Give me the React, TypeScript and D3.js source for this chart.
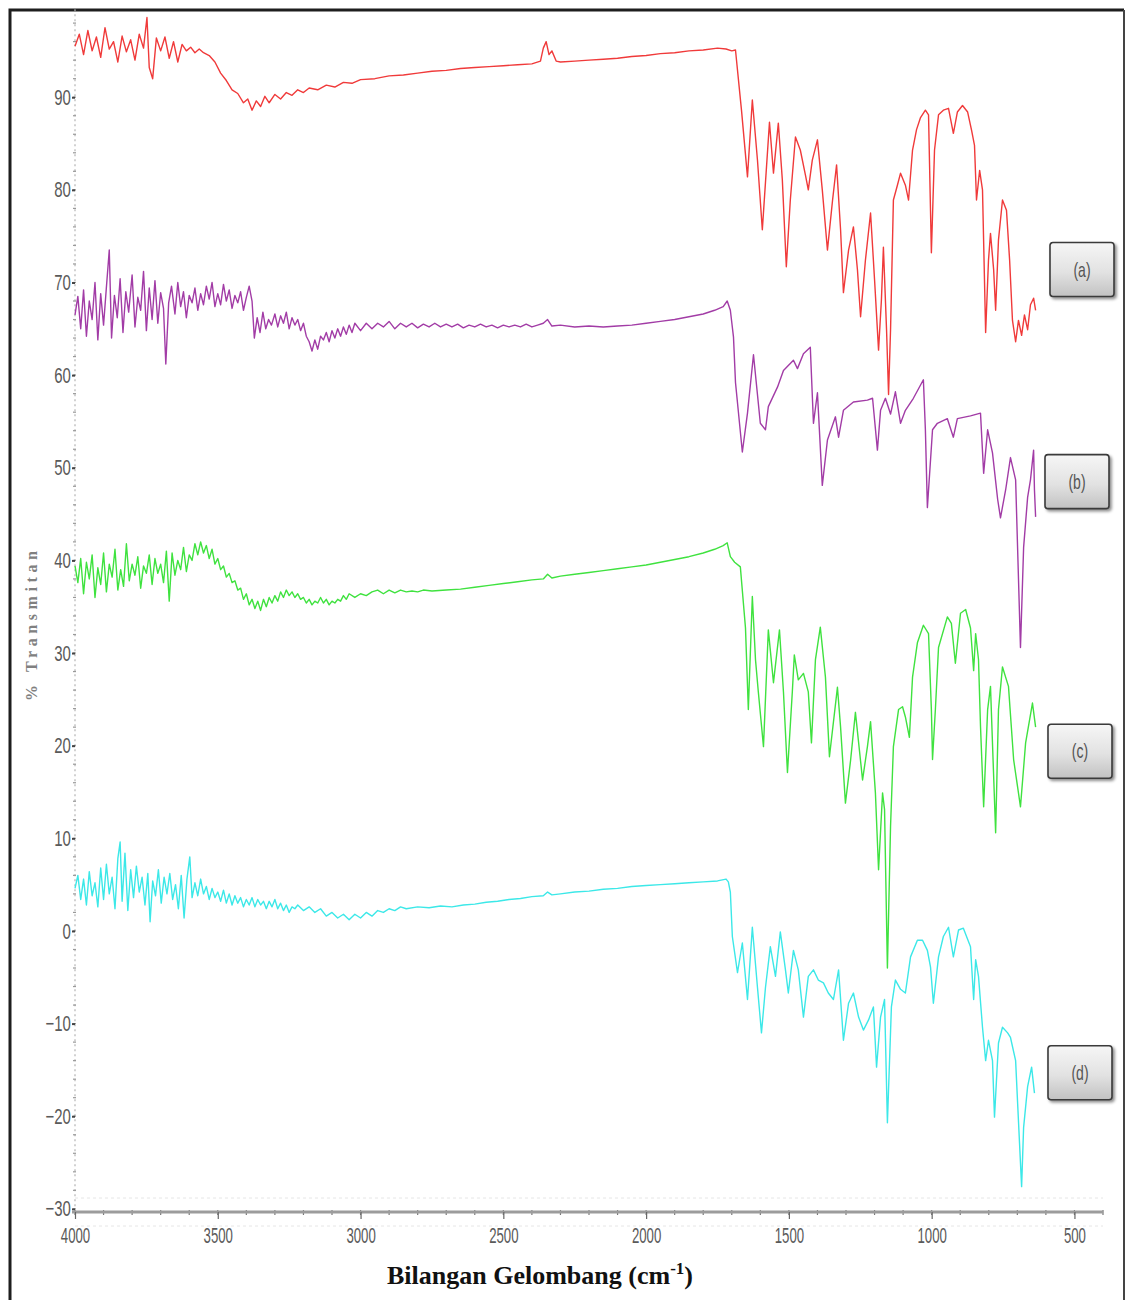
import { useEffect, useRef } from 'react';
import * as d3 from 'd3';

type Point = [number, number]; // [wavenumber cm-1, % transmitan]

const SERIES_A: Point[] = [
    [4000, 95.5], [3985, 96.8], [3970, 94.6], [3955, 97.2], [3940, 95.0], [3925, 96.5], [3910, 94.3], [3895, 97.5],
    [3880, 95.2], [3865, 96.0], [3850, 93.8], [3835, 96.6], [3820, 94.9], [3805, 96.2], [3790, 94.0], [3775, 96.8],
    [3760, 95.3], [3748, 98.6], [3740, 93.2], [3728, 92.0], [3715, 96.4], [3700, 95.0], [3685, 96.5], [3670, 94.2],
    [3655, 96.0], [3640, 93.8], [3625, 95.7], [3610, 95.0], [3595, 95.4], [3580, 94.8], [3565, 95.2], [3550, 94.8],
    [3530, 94.5], [3510, 93.8], [3490, 92.6], [3470, 91.8], [3450, 90.8], [3430, 90.4], [3410, 89.4], [3395, 89.8],
    [3380, 88.6], [3365, 89.6], [3350, 89.0], [3335, 90.1], [3320, 89.4], [3300, 90.3], [3280, 89.8], [3260, 90.5],
    [3240, 90.2], [3220, 90.8], [3200, 90.5], [3180, 91.0], [3150, 90.8], [3120, 91.3], [3090, 91.1], [3060, 91.6],
    [3030, 91.5], [3000, 91.9], [2950, 92.0], [2900, 92.3], [2850, 92.4], [2800, 92.6], [2750, 92.8], [2700, 92.9],
    [2650, 93.1], [2600, 93.2], [2550, 93.3], [2500, 93.4], [2450, 93.5], [2400, 93.6], [2370, 93.9], [2360, 95.3],
    [2350, 96.0], [2340, 94.6], [2330, 95.0], [2315, 93.9], [2300, 93.8], [2250, 93.9], [2200, 94.0], [2150, 94.1],
    [2100, 94.2], [2050, 94.4], [2000, 94.5], [1950, 94.7], [1900, 94.8], [1850, 95.0], [1800, 95.1], [1750, 95.3],
    [1720, 95.2], [1700, 95.0], [1687, 95.1], [1666, 88.6], [1645, 81.4], [1628, 89.7], [1610, 83.2], [1593, 75.7],
    [1568, 87.3], [1554, 81.8], [1537, 87.2], [1523, 81.1], [1509, 71.7], [1495, 78.9], [1477, 85.7], [1460, 84.3],
    [1442, 81.6], [1432, 80.0], [1418, 83.2], [1400, 85.4], [1383, 80.0], [1365, 73.5], [1347, 78.9], [1333, 82.7],
    [1319, 75.7], [1309, 68.9], [1291, 73.5], [1274, 76.0], [1260, 71.4], [1249, 66.3], [1232, 72.4], [1214, 77.5],
    [1200, 70.3], [1186, 62.7], [1176, 68.1], [1169, 73.8], [1158, 64.9], [1151, 57.9], [1144, 64.9], [1134, 78.9],
    [1120, 80.5], [1109, 81.8], [1092, 80.5], [1081, 78.9], [1067, 84.3], [1053, 86.5], [1039, 87.8], [1022, 88.6],
    [1011, 88.1], [1001, 73.2], [990, 84.3], [976, 88.1], [959, 88.6], [941, 88.8], [924, 86.1], [910, 88.4],
    [892, 89.1], [874, 88.4], [860, 86.4], [850, 84.8], [843, 78.9], [832, 82.1], [822, 80.0], [811, 64.6],
    [801, 72.4], [794, 75.3], [783, 71.4], [776, 67.0], [766, 74.6], [752, 78.9], [738, 77.8], [727, 72.4],
    [717, 65.9], [706, 63.6], [696, 65.9], [685, 64.3], [675, 66.5], [664, 64.9], [654, 67.6], [643, 68.3], [636, 67.0],
];

const SERIES_B: Point[] = [
    [4000, 66.5], [3990, 68.5], [3980, 65.0], [3970, 69.2], [3960, 64.2], [3950, 68.0], [3940, 66.0], [3930, 70.0],
    [3920, 63.8], [3910, 68.8], [3900, 65.4], [3890, 69.5], [3880, 73.5], [3872, 64.0], [3862, 68.6], [3852, 66.2],
    [3842, 70.4], [3832, 64.6], [3822, 69.0], [3812, 66.8], [3800, 70.8], [3790, 65.2], [3780, 68.4], [3770, 67.0],
    [3760, 71.2], [3750, 64.8], [3740, 69.4], [3730, 66.0], [3720, 70.2], [3710, 65.6], [3700, 68.9], [3690, 67.2],
    [3682, 61.2], [3672, 67.8], [3662, 69.6], [3650, 66.6], [3640, 70.0], [3630, 67.4], [3620, 69.0], [3610, 66.2],
    [3600, 68.6], [3590, 67.8], [3580, 69.4], [3570, 67.0], [3560, 68.8], [3550, 67.6], [3540, 69.6], [3530, 68.2],
    [3520, 70.0], [3510, 67.4], [3500, 68.8], [3490, 67.6], [3480, 69.8], [3470, 68.0], [3460, 69.2], [3450, 67.2],
    [3440, 68.6], [3430, 67.8], [3420, 69.0], [3410, 67.0], [3400, 68.4], [3390, 69.6], [3380, 68.0], [3372, 64.0],
    [3362, 66.2], [3352, 64.6], [3342, 66.8], [3332, 65.0], [3322, 66.0], [3312, 65.4], [3300, 66.6], [3290, 65.2],
    [3280, 66.4], [3270, 65.6], [3260, 66.8], [3250, 65.0], [3240, 66.2], [3230, 65.4], [3220, 66.0], [3210, 64.8],
    [3200, 65.6], [3190, 64.2], [3180, 63.6], [3170, 62.6], [3160, 63.8], [3150, 62.8], [3140, 64.2], [3130, 63.8],
    [3120, 64.6], [3110, 63.6], [3100, 64.8], [3090, 64.0], [3080, 65.0], [3070, 64.2], [3060, 65.2], [3050, 64.4],
    [3040, 65.4], [3030, 64.6], [3020, 65.6], [3000, 64.8], [2980, 65.6], [2960, 65.0], [2940, 65.6], [2920, 65.2],
    [2900, 65.8], [2880, 65.0], [2860, 65.6], [2840, 65.2], [2820, 65.6], [2800, 65.1], [2780, 65.5], [2760, 65.2],
    [2740, 65.6], [2720, 65.2], [2700, 65.5], [2680, 65.2], [2660, 65.5], [2640, 65.1], [2620, 65.4], [2600, 65.2],
    [2580, 65.5], [2560, 65.2], [2540, 65.4], [2520, 65.1], [2500, 65.4], [2480, 65.2], [2460, 65.4], [2440, 65.2],
    [2420, 65.5], [2400, 65.2], [2380, 65.4], [2360, 65.6], [2345, 66.0], [2330, 65.3], [2300, 65.4], [2250, 65.2],
    [2200, 65.3], [2150, 65.2], [2100, 65.3], [2050, 65.4], [2000, 65.6], [1950, 65.8], [1900, 66.0], [1850, 66.3],
    [1800, 66.6], [1760, 67.0], [1730, 67.4], [1716, 68.0], [1705, 67.0], [1694, 64.1], [1687, 59.2], [1663, 51.7],
    [1645, 55.9], [1624, 62.2], [1600, 54.8], [1582, 54.1], [1572, 56.6], [1540, 58.7], [1519, 60.5], [1484, 61.6],
    [1470, 60.7], [1449, 62.3], [1425, 63.0], [1414, 54.8], [1400, 58.1], [1383, 48.1], [1365, 53.0], [1337, 55.5],
    [1326, 53.3], [1309, 56.2], [1274, 57.1], [1225, 57.3], [1207, 57.5], [1190, 51.9], [1179, 56.2], [1162, 57.5],
    [1144, 55.8], [1127, 58.2], [1109, 54.8], [1092, 56.2], [1064, 57.5], [1029, 59.5], [1022, 54.1], [1015, 45.7],
    [997, 54.1], [980, 54.8], [945, 55.3], [924, 53.3], [910, 55.3], [864, 55.6], [829, 55.9], [818, 49.4],
    [804, 54.1], [787, 51.6], [769, 46.6], [759, 44.6], [741, 47.6], [724, 51.1], [706, 48.7], [689, 30.6],
    [678, 41.4], [664, 46.8], [654, 48.7], [643, 51.9], [640, 47.6], [636, 44.7],
];

const SERIES_C: Point[] = [
    [4000, 39.4], [3990, 37.6], [3980, 40.2], [3970, 36.4], [3960, 39.8], [3950, 38.0], [3940, 40.6], [3930, 36.0],
    [3920, 39.2], [3910, 37.4], [3900, 40.8], [3890, 36.6], [3880, 39.6], [3870, 38.2], [3860, 41.2], [3850, 36.8],
    [3840, 39.0], [3830, 37.2], [3820, 41.8], [3810, 37.8], [3800, 39.6], [3790, 38.4], [3780, 40.4], [3770, 37.0],
    [3760, 39.4], [3750, 38.6], [3740, 40.6], [3730, 37.4], [3720, 40.2], [3710, 38.6], [3700, 39.6], [3690, 37.6],
    [3680, 41.0], [3670, 35.6], [3660, 40.8], [3650, 38.4], [3640, 40.0], [3630, 39.0], [3620, 41.4], [3610, 38.8],
    [3600, 40.6], [3590, 40.0], [3580, 41.8], [3570, 40.6], [3560, 42.0], [3550, 40.8], [3540, 41.6], [3530, 40.2],
    [3520, 41.2], [3510, 39.6], [3500, 40.2], [3490, 39.0], [3480, 39.4], [3470, 38.2], [3460, 38.6], [3450, 37.6],
    [3440, 37.8], [3430, 36.8], [3420, 37.0], [3410, 35.8], [3400, 36.4], [3390, 35.2], [3380, 35.8], [3370, 34.8],
    [3360, 35.6], [3350, 34.6], [3340, 35.8], [3330, 35.0], [3320, 36.0], [3310, 35.4], [3300, 36.2], [3290, 35.6],
    [3280, 36.6], [3270, 36.0], [3260, 36.8], [3250, 36.2], [3240, 36.6], [3230, 36.0], [3220, 36.4], [3210, 35.8],
    [3200, 36.0], [3190, 35.4], [3180, 35.8], [3170, 35.2], [3160, 35.6], [3150, 35.4], [3140, 36.0], [3130, 35.4],
    [3120, 35.8], [3110, 35.2], [3100, 35.6], [3090, 35.4], [3080, 35.8], [3070, 35.6], [3060, 36.2], [3050, 35.8],
    [3040, 36.4], [3020, 36.0], [3000, 36.4], [2980, 36.2], [2960, 36.6], [2940, 36.8], [2920, 36.4], [2900, 36.8],
    [2880, 36.5], [2860, 36.8], [2840, 36.6], [2820, 36.7], [2800, 36.6], [2780, 36.8], [2750, 36.7], [2700, 36.8],
    [2650, 36.9], [2600, 37.1], [2550, 37.3], [2500, 37.5], [2450, 37.7], [2400, 37.9], [2360, 38.0], [2345, 38.5],
    [2330, 38.1], [2300, 38.3], [2250, 38.5], [2200, 38.7], [2150, 38.9], [2100, 39.1], [2050, 39.3], [2000, 39.5],
    [1950, 39.8], [1900, 40.1], [1850, 40.4], [1800, 40.8], [1760, 41.2], [1730, 41.6], [1716, 41.9], [1705, 40.4],
    [1690, 39.8], [1670, 39.3], [1652, 32.7], [1642, 23.9], [1628, 36.1], [1617, 29.3], [1607, 25.8], [1589, 19.9],
    [1572, 32.5], [1554, 26.8], [1533, 32.5], [1519, 25.8], [1505, 17.1], [1488, 25.8], [1481, 29.8], [1467, 27.1],
    [1449, 27.8], [1432, 25.8], [1421, 20.3], [1407, 29.3], [1390, 32.8], [1372, 27.4], [1358, 18.8], [1330, 26.3],
    [1319, 22.0], [1302, 13.8], [1284, 18.4], [1267, 23.6], [1242, 16.3], [1225, 19.9], [1214, 22.6], [1197, 14.9],
    [1186, 6.6], [1172, 14.9], [1165, 13.1], [1155, -4.0], [1144, 11.3], [1134, 19.9], [1116, 23.9], [1102, 24.2],
    [1092, 23.1], [1078, 20.9], [1067, 27.4], [1050, 31.1], [1029, 33.0], [1011, 32.1], [1001, 23.9], [997, 18.5],
    [987, 23.9], [976, 30.6], [945, 33.9], [931, 33.2], [917, 28.9], [899, 34.3], [881, 34.7], [864, 32.7],
    [853, 28.1], [846, 32.1], [836, 29.3], [829, 22.1], [818, 13.4], [804, 23.9], [794, 26.4], [776, 10.6],
    [766, 23.9], [752, 28.5], [731, 26.4], [713, 18.5], [689, 13.4], [671, 20.3], [647, 24.6], [636, 22.0],
];

const SERIES_D: Point[] = [
    [4000, 4.6], [3990, 6.0], [3980, 3.4], [3970, 5.6], [3960, 2.8], [3950, 6.4], [3940, 3.8], [3930, 5.2],
    [3920, 2.6], [3910, 6.8], [3900, 3.4], [3890, 7.2], [3880, 4.0], [3870, 5.8], [3860, 2.4], [3850, 7.8],
    [3842, 9.6], [3835, 3.2], [3825, 8.4], [3815, 2.2], [3805, 6.6], [3795, 3.6], [3785, 7.0], [3775, 4.2],
    [3765, 5.8], [3755, 2.8], [3745, 6.2], [3737, 1.0], [3728, 5.4], [3718, 3.8], [3708, 6.6], [3698, 3.0],
    [3688, 5.8], [3678, 4.0], [3668, 6.2], [3658, 3.4], [3648, 5.0], [3638, 2.4], [3628, 6.0], [3618, 1.4],
    [3608, 5.6], [3598, 8.0], [3590, 3.6], [3580, 5.2], [3570, 3.8], [3560, 5.6], [3550, 4.0], [3540, 4.8],
    [3530, 3.4], [3520, 4.6], [3510, 3.6], [3500, 4.2], [3490, 3.2], [3480, 4.4], [3470, 3.0], [3460, 4.0],
    [3450, 2.8], [3440, 3.8], [3430, 3.0], [3420, 3.6], [3410, 2.6], [3400, 3.4], [3390, 2.8], [3380, 3.6],
    [3370, 2.6], [3360, 3.4], [3350, 2.8], [3340, 3.2], [3330, 2.4], [3320, 3.2], [3310, 2.6], [3300, 3.4],
    [3290, 2.4], [3280, 3.0], [3270, 2.2], [3260, 2.8], [3250, 2.0], [3240, 2.6], [3230, 2.4], [3220, 2.8],
    [3200, 2.2], [3180, 2.6], [3160, 2.0], [3140, 2.4], [3120, 1.6], [3100, 2.0], [3080, 1.4], [3060, 1.8],
    [3040, 1.2], [3020, 1.8], [3000, 1.4], [2980, 2.0], [2960, 1.6], [2940, 2.2], [2920, 2.0], [2900, 2.4],
    [2880, 2.2], [2860, 2.6], [2840, 2.4], [2800, 2.6], [2760, 2.5], [2720, 2.7], [2680, 2.6], [2640, 2.8],
    [2600, 2.9], [2560, 3.1], [2520, 3.2], [2480, 3.4], [2440, 3.5], [2400, 3.7], [2360, 3.8], [2345, 4.2],
    [2330, 3.9], [2300, 4.0], [2250, 4.2], [2200, 4.3], [2150, 4.5], [2100, 4.6], [2050, 4.8], [2000, 4.9],
    [1950, 5.0], [1900, 5.1], [1850, 5.2], [1800, 5.3], [1750, 5.4], [1720, 5.6], [1712, 5.3], [1705, 4.2],
    [1698, -0.6], [1680, -4.5], [1663, -1.3], [1645, -7.4], [1628, 0.4], [1610, -6.1], [1596, -11.0], [1582, -6.1],
    [1565, -1.7], [1547, -4.9], [1530, -0.1], [1512, -4.2], [1502, -6.7], [1484, -2.1], [1467, -4.2], [1449, -9.3],
    [1432, -4.9], [1414, -4.2], [1397, -5.3], [1379, -5.6], [1362, -6.7], [1344, -7.4], [1326, -4.2], [1309, -11.8],
    [1291, -7.8], [1274, -6.7], [1256, -9.3], [1239, -10.7], [1221, -9.6], [1204, -8.2], [1193, -14.7], [1179, -9.3],
    [1165, -7.4], [1155, -20.7], [1141, -8.2], [1127, -5.3], [1109, -6.3], [1092, -6.7], [1074, -2.8], [1050, -1.0],
    [1032, -1.0], [1015, -2.1], [1004, -3.9], [994, -7.8], [976, -2.8], [959, -0.6], [941, 0.4], [924, -2.8],
    [906, 0.1], [889, 0.3], [864, -1.7], [853, -7.4], [846, -3.1], [836, -4.9], [822, -10.4], [811, -14.0],
    [801, -11.8], [787, -14.0], [780, -20.1], [766, -12.1], [752, -10.4], [734, -11.0], [724, -11.5], [706, -14.0],
    [699, -18.6], [685, -27.6], [678, -21.2], [664, -16.8], [650, -14.7], [640, -17.5],
];

const SPECTRA = [
    { id: 'a', label: '(a)', color: '#f03a3a', data: SERIES_A },
    { id: 'b', label: '(b)', color: '#a23ca6', data: SERIES_B },
    { id: 'c', label: '(c)', color: '#3fe23f', data: SERIES_C },
    { id: 'd', label: '(d)', color: '#3ce8e8', data: SERIES_D },
];

const Y_TICKS = [-30, -20, -10, 0, 10, 20, 30, 40, 50, 60, 70, 80, 90];
const X_TICKS = [4000, 3500, 3000, 2500, 2000, 1500, 1000, 500];

const X_TITLE = 'Bilangan Gelombang (cm';
const Y_TITLE = '% Transmitan';

export default function App() {
    const svgRef = useRef<SVGSVGElement>(null);
    const width = 1130;
    const height = 1300;

    useEffect(() => {
        if (!svgRef.current) return;
        const svg = d3.select(svgRef.current);
        svg.selectAll('*').remove();

        const axisFont = '"Liberation Sans", Arial, sans-serif';

        const x = d3.scaleLinear().domain([4000, 400]).range([75, 1103]);
        const y = d3.scaleLinear().domain([-30.5, 99.5]).range([1213.5, 9.2]);
        const axisY = 1212;

        // defs for the label buttons
        const defs = svg.append('defs');
        const grad = defs.append('linearGradient')
            .attr('id', 'btnGrad')
            .attr('x1', 0).attr('y1', 0).attr('x2', 0).attr('y2', 1);
        grad.append('stop').attr('offset', '0%').attr('stop-color', '#f6f6f6');
        grad.append('stop').attr('offset', '55%').attr('stop-color', '#e2e2e2');
        grad.append('stop').attr('offset', '100%').attr('stop-color', '#c2c2c2');
        defs.append('filter')
            .attr('id', 'btnShadow')
            .attr('x', '-20%').attr('y', '-20%').attr('width', '150%').attr('height', '150%')
            .append('feDropShadow')
            .attr('dx', 2).attr('dy', 2).attr('stdDeviation', 1.5)
            .attr('flood-color', '#000').attr('flood-opacity', 0.45);

        svg.append('rect').attr('width', width).attr('height', height).attr('fill', '#fff');

        // outer frame
        svg.append('path')
            .attr('d', 'M10,1300V10H1124')
            .attr('fill', 'none')
            .attr('stroke', '#1e1e1e')
            .attr('stroke-width', 3);
        svg.append('line')
            .attr('x1', 1124).attr('x2', 1124).attr('y1', 10).attr('y2', 1300)
            .attr('stroke', '#444').attr('stroke-width', 2);

        // y axis: dotted line + ticks
        svg.append('line')
            .attr('x1', x(4000)).attr('x2', x(4000))
            .attr('y1', y(99.5)).attr('y2', axisY)
            .attr('stroke', '#b4b4b4')
            .attr('stroke-width', 1.2)
            .attr('stroke-dasharray', '2,3');

        svg.append('g')
            .selectAll('line')
            .data(d3.range(-30, 99, 2))
            .enter()
            .append('line')
            .attr('x1', x(4000) - 2).attr('x2', x(4000) + 1)
            .attr('y1', d => y(d)).attr('y2', d => y(d))
            .attr('stroke', '#999')
            .attr('stroke-width', 1.2);

        const yAxis = svg.append('g')
            .attr('transform', `translate(${x(4000)},0)`)
            .call(d3.axisLeft(y).tickValues(Y_TICKS).tickSize(3).tickPadding(3).tickFormat(d3.format('d')));
        yAxis.select('.domain').remove();
        yAxis.selectAll('.tick line').attr('stroke', '#444').attr('stroke-width', 2);
        yAxis.selectAll('.tick text')
            .attr('fill', '#5a5a5a')
            .attr('transform', 'scale(0.68,1)')
            .style('font-family', axisFont)
            .style('font-size', '22px');

        // x axis
        svg.append('g')
            .selectAll('line')
            .data(d3.range(400, 4001, 100))
            .enter()
            .append('line')
            .attr('x1', d => x(d)).attr('x2', d => x(d))
            .attr('y1', axisY - 2).attr('y2', axisY + 3)
            .attr('stroke', '#777')
            .attr('stroke-width', 1.2);

        const xAxis = svg.append('g')
            .attr('transform', `translate(0,${axisY})`)
            .call(d3.axisBottom(x).tickValues(X_TICKS).tickSize(7).tickPadding(8).tickFormat(d3.format('d')));
        xAxis.select('.domain')
            .attr('d', `M${x(4000) - 3},0H${x(400)}`)
            .attr('stroke', '#9c9c9c')
            .attr('stroke-width', 3);
        xAxis.selectAll('.tick line').attr('stroke', '#666').attr('stroke-width', 1.2);
        xAxis.selectAll('.tick text')
            .attr('fill', '#5a5a5a')
            .attr('transform', 'scale(0.6,1)')
            .style('font-family', axisFont)
            .style('font-size', '22px');

        // faint guide rows above and below the x axis
        [axisY - 14, axisY + 14].forEach(py => {
            svg.append('line')
                .attr('x1', x(4000)).attr('x2', x(400))
                .attr('y1', py).attr('y2', py)
                .attr('stroke', '#e6e6e6')
                .attr('stroke-dasharray', '3,3');
        });

        // spectra
        const line = d3.line<Point>()
            .x(d => x(d[0]))
            .y(d => y(d[1]));

        [...SPECTRA].reverse().forEach(s => {
            svg.append('path')
                .datum(s.data)
                .attr('fill', 'none')
                .attr('stroke', s.color)
                .attr('stroke-width', 1.4)
                .attr('stroke-linejoin', 'round')
                .attr('d', line);
        });

        // label buttons
        const legendAt = [
            { left: 1050, v: 71.4 },
            { left: 1045, v: 48.5 },
            { left: 1048, v: 19.4 },
            { left: 1048, v: -15.3 },
        ];
        SPECTRA.forEach((s, i) => {
            const cy = y(legendAt[i].v);
            const g = svg.append('g').attr('transform', `translate(${legendAt[i].left},${cy - 27})`);
            g.append('rect')
                .attr('width', 64).attr('height', 54).attr('rx', 3)
                .attr('fill', 'url(#btnGrad)')
                .attr('stroke', '#3a3a3a')
                .attr('stroke-width', 1.6)
                .attr('filter', 'url(#btnShadow)');
            g.append('text')
                .attr('transform', 'translate(32,34) scale(0.7,1)')
                .attr('text-anchor', 'middle')
                .attr('fill', '#555')
                .style('font-family', axisFont)
                .style('font-size', '20px')
                .text(s.label);
        });

        // axis titles
        const xt = svg.append('text')
            .attr('x', 540).attr('y', 1284)
            .attr('text-anchor', 'middle')
            .attr('fill', '#111')
            .style('font-family', '"Liberation Serif", "Times New Roman", serif')
            .style('font-weight', 'bold')
            .style('font-size', '26px');
        xt.append('tspan').text(X_TITLE);
        xt.append('tspan').attr('dy', -10).style('font-size', '17px').text('-1');
        xt.append('tspan').attr('dy', 10).text(')');

        svg.append('text')
            .attr('transform', 'translate(37,626) rotate(-90)')
            .attr('text-anchor', 'middle')
            .attr('fill', '#808080')
            .attr('textLength', 150)
            .attr('lengthAdjust', 'spacing')
            .style('font-family', '"Liberation Serif", "Times New Roman", serif')
            .style('font-weight', 'bold')
            .style('font-size', '16px')
            .text(Y_TITLE);
    }, []);

    return (
        <div style={{ position: 'absolute', left: 0, top: 0 }}>
            <svg ref={svgRef} width={width} height={height} viewBox={`0 0 ${width} ${height}`}></svg>
        </div>
    );
}
